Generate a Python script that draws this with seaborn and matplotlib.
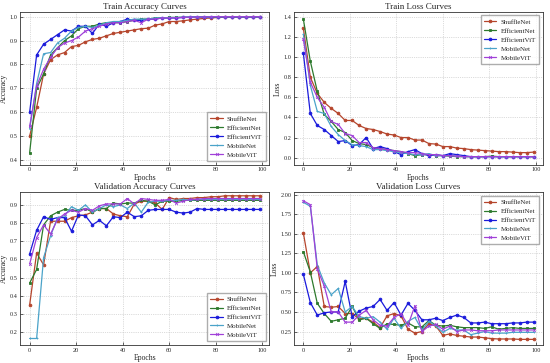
import pandas as pd
import seaborn as sns
import matplotlib.pyplot as plt

# epochs sampled every 3
epochs = list(range(0, 100, 3))
models = ['ShuffleNet', 'EfficientNet', 'EfficientViT', 'MobileNet', 'MobileViT']
colors = ['#b5452c', '#2d7a2d', '#1a1adb', '#4aa3c9', '#a040d8']
markers = ['o', 's', 'o', '+', 'x']

train_acc = {
    'ShuffleNet': [0.50, 0.62, 0.76, 0.82, 0.84, 0.85, 0.875, 0.88, 0.895, 0.905, 0.91, 0.92, 0.93, 0.935, 0.94, 0.945, 0.95,
                   0.952, 0.965, 0.97, 0.98, 0.98, 0.983, 0.987, 0.99, 0.993, 0.995, 0.997, 0.998, 0.998, 0.998, 0.999, 0.999, 0.999],
    'EfficientNet': [0.43, 0.70, 0.76, 0.84, 0.87, 0.90, 0.92, 0.95, 0.96, 0.96, 0.97, 0.975, 0.975, 0.975, 0.98, 0.985, 0.99,
                     0.99, 0.995, 0.995, 0.997, 0.997, 0.998, 0.998, 0.999, 0.999, 0.999, 1.0, 1.0, 1.0, 1.0, 1.0, 1.0, 1.0],
    'EfficientViT': [0.60, 0.84, 0.885, 0.905, 0.925, 0.945, 0.94, 0.96, 0.96, 0.93, 0.97, 0.96, 0.975, 0.98, 0.99, 0.985, 0.985,
                     0.99, 0.99, 0.995, 0.995, 0.995, 0.997, 0.998, 0.999, 0.999, 1.0, 1.0, 1.0, 1.0, 1.0, 1.0, 1.0, 1.0],
    'MobileNet': [0.53, 0.72, 0.845, 0.85, 0.89, 0.91, 0.94, 0.955, 0.96, 0.955, 0.965, 0.975, 0.98, 0.98, 0.985, 0.99, 0.99,
                  0.99, 0.995, 0.995, 0.997, 0.997, 0.998, 0.998, 0.999, 0.999, 1.0, 1.0, 1.0, 1.0, 1.0, 1.0, 1.0, 1.0],
    'MobileViT': [0.54, 0.71, 0.78, 0.83, 0.87, 0.89, 0.90, 0.915, 0.94, 0.95, 0.96, 0.97, 0.975, 0.975, 0.98, 0.985, 0.975,
                  0.99, 0.99, 0.995, 0.995, 0.996, 0.997, 0.998, 0.999, 0.999, 1.0, 1.0, 1.0, 1.0, 1.0, 1.0, 1.0, 1.0],
}

train_loss = {
    'ShuffleNet': [1.29, 0.80, 0.64, 0.55, 0.49, 0.44, 0.37, 0.37, 0.32, 0.29, 0.28, 0.26, 0.235, 0.225, 0.20, 0.20, 0.175,
                   0.175, 0.14, 0.135, 0.11, 0.11, 0.095, 0.09, 0.08, 0.075, 0.07, 0.065, 0.06, 0.06, 0.055, 0.05, 0.05, 0.055],
    'EfficientNet': [1.38, 0.96, 0.66, 0.43, 0.36, 0.28, 0.25, 0.17, 0.14, 0.13, 0.10, 0.09, 0.08, 0.07, 0.06, 0.04, 0.02,
                     0.03, 0.03, 0.02, 0.02, 0.015, 0.01, 0.01, 0.01, 0.01, 0.01, 0.015, 0.01, 0.01, 0.01, 0.01, 0.01, 0.01],
    'EfficientViT': [1.04, 0.44, 0.32, 0.28, 0.22, 0.16, 0.17, 0.12, 0.13, 0.20, 0.09, 0.11, 0.09, 0.06, 0.03, 0.06, 0.08,
                     0.04, 0.02, 0.03, 0.02, 0.04, 0.03, 0.02, 0.01, 0.01, 0.01, 0.01, 0.01, 0.01, 0.01, 0.01, 0.01, 0.01],
    'MobileNet': [1.23, 0.72, 0.46, 0.44, 0.31, 0.23, 0.17, 0.13, 0.12, 0.11, 0.08, 0.08, 0.07, 0.06, 0.05, 0.04, 0.03,
                  0.03, 0.04, 0.02, 0.02, 0.02, 0.015, 0.01, 0.01, 0.01, 0.01, 0.01, 0.01, 0.01, 0.01, 0.01, 0.01, 0.01],
    'MobileViT': [1.18, 0.75, 0.60, 0.50, 0.36, 0.33, 0.24, 0.22, 0.15, 0.15, 0.10, 0.09, 0.08, 0.07, 0.06, 0.05, 0.05,
                  0.04, 0.03, 0.03, 0.02, 0.02, 0.015, 0.01, 0.01, 0.01, 0.01, 0.01, 0.01, 0.01, 0.01, 0.01, 0.01, 0.01],
}

val_acc = {
    'ShuffleNet': [0.35, 0.635, 0.57, 0.81, 0.81, 0.81, 0.83, 0.84, 0.845, 0.86, 0.88, 0.88, 0.85, 0.84, 0.835, 0.905, 0.92,
                   0.92, 0.91, 0.875, 0.94, 0.93, 0.935, 0.935, 0.94, 0.94, 0.945, 0.945, 0.95, 0.95, 0.95, 0.95, 0.95, 0.95],
    'EfficientNet': [0.47, 0.545, 0.79, 0.84, 0.86, 0.875, 0.87, 0.87, 0.88, 0.86, 0.88, 0.88, 0.91, 0.905, 0.91, 0.91, 0.925,
                     0.92, 0.90, 0.92, 0.92, 0.92, 0.925, 0.925, 0.925, 0.925, 0.925, 0.925, 0.925, 0.925, 0.925, 0.925, 0.925, 0.925],
    'EfficientViT': [0.63, 0.76, 0.835, 0.82, 0.83, 0.83, 0.755, 0.845, 0.84, 0.79, 0.815, 0.785, 0.835, 0.83, 0.86, 0.835, 0.84,
                     0.87, 0.875, 0.875, 0.875, 0.86, 0.855, 0.86, 0.88, 0.875, 0.875, 0.875, 0.875, 0.875, 0.875, 0.875, 0.875, 0.875],
    'MobileNet': [0.165, 0.165, 0.61, 0.73, 0.83, 0.84, 0.89, 0.87, 0.90, 0.86, 0.88, 0.90, 0.89, 0.90, 0.88, 0.91, 0.86,
                  0.915, 0.92, 0.92, 0.925, 0.925, 0.93, 0.925, 0.93, 0.93, 0.93, 0.93, 0.93, 0.93, 0.93, 0.93, 0.93, 0.93],
    'MobileViT': [0.575, 0.72, 0.79, 0.74, 0.82, 0.85, 0.87, 0.86, 0.88, 0.87, 0.895, 0.905, 0.905, 0.905, 0.935, 0.905, 0.935,
                  0.93, 0.925, 0.925, 0.93, 0.91, 0.92, 0.93, 0.93, 0.935, 0.935, 0.935, 0.935, 0.935, 0.935, 0.935, 0.935, 0.935],
}

val_loss = {
    'ShuffleNet': [1.51, 1.00, 1.08, 0.57, 0.56, 0.57, 0.48, 0.48, 0.41, 0.42, 0.37, 0.30, 0.45, 0.48, 0.45, 0.28, 0.23,
                   0.25, 0.35, 0.32, 0.20, 0.22, 0.20, 0.19, 0.18, 0.18, 0.17, 0.16, 0.155, 0.155, 0.155, 0.15, 0.15, 0.15],
    'EfficientNet': [1.27, 1.01, 0.61, 0.48, 0.38, 0.40, 0.42, 0.57, 0.40, 0.42, 0.35, 0.29, 0.35, 0.34, 0.33, 0.36, 0.31,
                     0.31, 0.39, 0.33, 0.32, 0.33, 0.31, 0.30, 0.30, 0.30, 0.29, 0.31, 0.28, 0.29, 0.30, 0.29, 0.29, 0.29],
    'EfficientViT': [0.98, 0.62, 0.46, 0.49, 0.50, 0.50, 0.89, 0.44, 0.51, 0.55, 0.57, 0.66, 0.52, 0.62, 0.46, 0.61, 0.52,
                     0.40, 0.40, 0.42, 0.39, 0.43, 0.46, 0.43, 0.36, 0.36, 0.37, 0.35, 0.35, 0.35, 0.36, 0.36, 0.37, 0.37],
    'MobileNet': [1.90, 1.85, 1.10, 0.87, 0.72, 0.80, 0.50, 0.57, 0.44, 0.42, 0.44, 0.37, 0.28, 0.42, 0.29, 0.38, 0.43,
                  0.27, 0.38, 0.32, 0.24, 0.29, 0.27, 0.27, 0.21, 0.23, 0.25, 0.23, 0.23, 0.23, 0.24, 0.24, 0.24, 0.24],
    'MobileViT': [1.92, 1.87, 1.05, 0.83, 0.50, 0.50, 0.37, 0.37, 0.46, 0.52, 0.40, 0.33, 0.32, 0.43, 0.48, 0.33, 0.58,
                  0.25, 0.32, 0.34, 0.28, 0.32, 0.25, 0.27, 0.27, 0.26, 0.26, 0.26, 0.27, 0.27, 0.27, 0.27, 0.27, 0.27],
}

sns.set_theme(style="ticks")
plt.rcParams['font.family'] = ['Liberation Serif', 'DejaVu Serif']

fig, axes = plt.subplots(2, 2, figsize=(5.5, 3.63), dpi=100)
fig.subplots_adjust(left=0.037, right=0.987, top=0.967, bottom=0.05, wspace=0.1, hspace=0.18)

panels = [
    (axes[0, 0], train_acc, 'Train Accuracy Curves', 'Accuracy', (0.38, 1.02), 'lower right'),
    (axes[0, 1], train_loss, 'Train Loss Curves', 'Loss', (-0.07, 1.45), 'upper right'),
    (axes[1, 0], val_acc, 'Validation Accuracy Curves', 'Accuracy', (0.13, 0.97), 'lower right'),
    (axes[1, 1], val_loss, 'Validation Loss Curves', 'Loss', (0.08, 2.03), 'upper right'),
]

for ax, data, title, ylabel, ylim, loc in panels:
    for name, c, m in zip(models, colors, markers):
        sns.lineplot(x=epochs, y=data[name], ax=ax, color=c, marker=m, markersize=2,
                     markeredgecolor=c, markeredgewidth=0.6, linewidth=0.9, label=name)
    ax.set_title(title, fontsize=6.5, pad=2)
    ax.set_xlabel('Epochs', fontsize=5.5, labelpad=1)
    ax.set_ylabel(ylabel, fontsize=5.5, labelpad=1)
    ax.set_xlim(-4, 103)
    ax.set_ylim(*ylim)
    ax.set_xticks([0, 20, 40, 60, 80, 100])
    ax.tick_params(direction='in', labelsize=4.5, length=2, width=0.5, pad=2)
    ax.grid(True, linestyle=':', linewidth=0.5, color='#bbbbbb')
    for s in ax.spines.values():
        s.set_linewidth(0.6)
        s.set_color('#333333')
    ax.legend(loc=loc, fontsize=5, frameon=True, fancybox=False, edgecolor='#999999',
              handlelength=1.8, handletextpad=0.6, borderpad=0.5, labelspacing=0.45)

plt.savefig('out.png', dpi=100)
